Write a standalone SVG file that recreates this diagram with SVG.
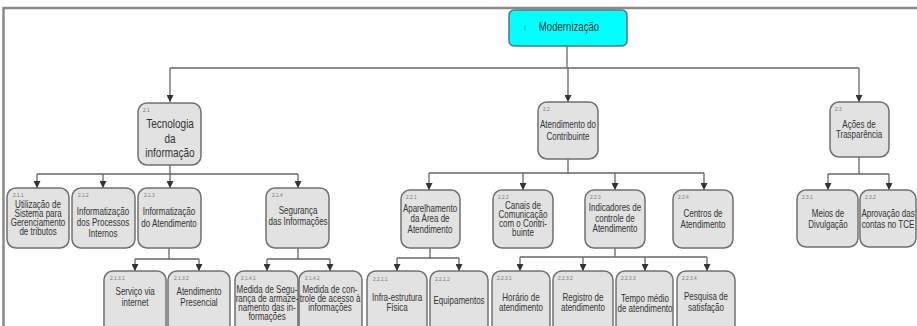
<svg xmlns="http://www.w3.org/2000/svg" width="917" height="326" viewBox="0 0 917 326">
<defs>
<marker id="ah" viewBox="0 0 10 10" refX="10" refY="5" markerWidth="7" markerHeight="7" markerUnits="userSpaceOnUse" orient="auto">
<path d="M0,0 L10,5 L0,10 z" fill="#333"/>
</marker>
<style>
.box{fill:#e2e2e2;stroke:#707070;stroke-width:1.5}
.root{fill:#00ffff;stroke:#607070;stroke-width:1.5}
.t{font-family:"Liberation Sans",Arial,sans-serif;font-size:10px;fill:#333;text-anchor:middle;transform-box:fill-box;transform-origin:center;transform:scaleX(0.8)}
.big{font-size:12.5px}
.n{font-family:"Liberation Sans",Arial,sans-serif;font-size:6px;fill:#777;transform-box:fill-box;transform-origin:left;transform:scaleX(0.8)}
.c{fill:none;stroke:#666;stroke-width:1.3}
.a{fill:none;stroke:#666;stroke-width:1.3;marker-end:url(#ah)}
.frame{fill:none;stroke:#888;stroke-width:2.5}
</style>
</defs>
<rect width="917" height="326" fill="#fff"/>
<path class="frame" d="M3.5,330 V8 H920"/>
<g id="connectors">
<path class="c" d="M567,46 V68 M170,68 H859"/>
<path class="a" d="M170,68 V102"/><path class="a" d="M568,68 V102"/><path class="a" d="M859,68 V102"/>
<path class="c" d="M170,165 V174 M37,174 H298"/>
<path class="a" d="M37,174 V188"/><path class="a" d="M103,174 V188"/><path class="a" d="M170,174 V188"/><path class="a" d="M298,174 V188"/>
<path class="c" d="M169,248 V259 M135,259 H199"/>
<path class="a" d="M135,259 V271"/><path class="a" d="M199,259 V271"/>
<path class="c" d="M298,248 V259 M267,259 H330"/>
<path class="a" d="M267,259 V271"/><path class="a" d="M330,259 V271"/>
<path class="c" d="M568,159 V173 M429,173 H704"/>
<path class="a" d="M429,173 V190"/><path class="a" d="M523,173 V190"/><path class="a" d="M615,173 V190"/><path class="a" d="M704,173 V190"/>
<path class="c" d="M430,248 V258 M397,258 H459"/>
<path class="a" d="M397,258 V271"/><path class="a" d="M459,258 V271"/>
<path class="c" d="M615,248 V257 M520,257 H707"/>
<path class="a" d="M520,257 V271"/><path class="a" d="M583,257 V271"/><path class="a" d="M645,257 V271"/><path class="a" d="M707,257 V271"/>
<path class="c" d="M859,157 V174 M828,174 H889"/>
<path class="a" d="M828,174 V190"/><path class="a" d="M889,174 V190"/>
</g>
<g id="n2">
<rect class="root" x="509" y="10" width="118" height="36" rx="5"/>
<text class="n" x="524" y="30">2</text>
<text class="t" x="569" y="31" style="font-size:12px">Modernização</text>
</g>
<g id="n2_1">
<rect class="box" x="138" y="103" width="63" height="62" rx="9"/>
<text class="n" x="143" y="112">2.1</text>
<text class="t big" x="170" y="128">Tecnologia</text>
<text class="t big" x="170" y="143">da</text>
<text class="t big" x="170" y="157">informação</text>
</g>
<g id="n2_2">
<rect class="box" x="538" y="102" width="60" height="57" rx="9"/>
<text class="n" x="543" y="111">2.2</text>
<text class="t" x="568" y="128">Atendimento do</text>
<text class="t" x="568" y="140">Contribuinte</text>
</g>
<g id="n2_3">
<rect class="box" x="830" y="102" width="59" height="55" rx="9"/>
<text class="n" x="835" y="111">2.3</text>
<text class="t" x="859" y="128">Ações de</text>
<text class="t" x="859" y="138">Trasparência</text>
</g>
<g id="n2_1_1">
<rect class="box" x="7" y="188" width="62" height="60" rx="9"/>
<text class="n" x="13" y="197">2.1.1</text>
<text class="t" x="38" y="208">Utilização de</text>
<text class="t" x="38" y="217">Sistema para</text>
<text class="t" x="38" y="226">Gerenciamento</text>
<text class="t" x="38" y="235">de tributos</text>
</g>
<g id="n2_1_2">
<rect class="box" x="72" y="188" width="63" height="60" rx="9"/>
<text class="n" x="78" y="197">2.1.2</text>
<text class="t" x="103" y="215">Informatização</text>
<text class="t" x="103" y="226">dos Processos</text>
<text class="t" x="103" y="237">Internos</text>
</g>
<g id="n2_1_3">
<rect class="box" x="138" y="188" width="63" height="60" rx="9"/>
<text class="n" x="144" y="197">2.1.3</text>
<text class="t" x="169" y="215">Informatização</text>
<text class="t" x="169" y="227">do Atendimento</text>
</g>
<g id="n2_1_4">
<rect class="box" x="266" y="188" width="63" height="60" rx="9"/>
<text class="n" x="272" y="197">2.1.4</text>
<text class="t" x="298" y="214">Segurança</text>
<text class="t" x="298" y="225">das Informações</text>
</g>
<g id="n2_2_1">
<rect class="box" x="401" y="190" width="59" height="58" rx="9"/>
<text class="n" x="406" y="199">2.2.1</text>
<text class="t" x="430" y="212">Aparelhamento</text>
<text class="t" x="430" y="222">da Área de</text>
<text class="t" x="430" y="233">Atendimento</text>
</g>
<g id="n2_2_2">
<rect class="box" x="493" y="190" width="60" height="58" rx="9"/>
<text class="n" x="498" y="199">2.2.2</text>
<text class="t" x="523" y="209">Canais de</text>
<text class="t" x="523" y="218">Comunicação</text>
<text class="t" x="523" y="227">com o Contri-</text>
<text class="t" x="523" y="236">buinte</text>
</g>
<g id="n2_2_3">
<rect class="box" x="585" y="190" width="60" height="58" rx="9"/>
<text class="n" x="590" y="199">2.2.3</text>
<text class="t" x="615" y="211">Indicadores de</text>
<text class="t" x="615" y="222">controle de</text>
<text class="t" x="615" y="232">Atendimento</text>
</g>
<g id="n2_2_4">
<rect class="box" x="673" y="190" width="60" height="58" rx="9"/>
<text class="n" x="678" y="199">2.2.4</text>
<text class="t" x="703" y="217">Centros de</text>
<text class="t" x="703" y="228">Atendimento</text>
</g>
<g id="n2_3_1">
<rect class="box" x="797" y="190" width="61" height="57" rx="9"/>
<text class="n" x="802" y="199">2.3.1</text>
<text class="t" x="828" y="217">Meios de</text>
<text class="t" x="828" y="228">Divulgação</text>
</g>
<g id="n2_3_2">
<rect class="box" x="860" y="190" width="56" height="57" rx="9"/>
<text class="n" x="865" y="199">2.3.2</text>
<text class="t" x="888" y="217">Aprovação das</text>
<text class="t" x="888" y="228">contas no TCE</text>
</g>
<g id="n2_1_3_1">
<rect class="box" x="104" y="271" width="62" height="65" rx="9"/>
<text class="n" x="110" y="280">2.1.3.1</text>
<text class="t" x="135" y="295">Serviço via</text>
<text class="t" x="135" y="306">internet</text>
</g>
<g id="n2_1_3_2">
<rect class="box" x="168" y="271" width="62" height="65" rx="9"/>
<text class="n" x="174" y="280">2.1.3.2</text>
<text class="t" x="199" y="295">Atendimento</text>
<text class="t" x="199" y="306">Presencial</text>
</g>
<g id="n2_1_4_1">
<rect class="box" x="235" y="271" width="63" height="65" rx="9"/>
<text class="n" x="241" y="280">2.1.4.1</text>
<text class="t" x="267" y="293">Medida de Segu-</text>
<text class="t" x="267" y="302">rança de armaze-</text>
<text class="t" x="267" y="311">namento das in-</text>
<text class="t" x="267" y="320">formações</text>
</g>
<g id="n2_1_4_2">
<rect class="box" x="299" y="271" width="63" height="65" rx="9"/>
<text class="n" x="305" y="280">2.1.4.2</text>
<text class="t" x="330" y="293">Medida de con-</text>
<text class="t" x="330" y="302">trole de acesso à</text>
<text class="t" x="330" y="311">informações</text>
</g>
<g id="n2_2_1_1">
<rect class="box" x="367" y="271" width="60" height="65" rx="9"/>
<text class="n" x="373" y="281">2.2.1.1</text>
<text class="t" x="397" y="301">Infra-estrutura</text>
<text class="t" x="397" y="311">Física</text>
</g>
<g id="n2_2_1_2">
<rect class="box" x="430" y="271" width="58" height="65" rx="9"/>
<text class="n" x="435" y="281">2.2.1.2</text>
<text class="t" x="459" y="304">Equipamentos</text>
</g>
<g id="n2_2_3_1">
<rect class="box" x="492" y="271" width="58" height="65" rx="9"/>
<text class="n" x="497" y="280">2.2.3.1</text>
<text class="t" x="521" y="301">Horário de</text>
<text class="t" x="521" y="311">atendimento</text>
</g>
<g id="n2_2_3_2">
<rect class="box" x="553" y="271" width="60" height="65" rx="9"/>
<text class="n" x="558" y="280">2.2.3.2</text>
<text class="t" x="583" y="301">Registro de</text>
<text class="t" x="583" y="311">atendimento</text>
</g>
<g id="n2_2_3_3">
<rect class="box" x="616" y="271" width="57" height="65" rx="9"/>
<text class="n" x="621" y="280">2.2.3.3</text>
<text class="t" x="645" y="302">Tempo médio</text>
<text class="t" x="645" y="312">de atendimento</text>
</g>
<g id="n2_2_3_4">
<rect class="box" x="677" y="271" width="58" height="65" rx="9"/>
<text class="n" x="682" y="280">2.2.3.4</text>
<text class="t" x="706" y="300">Pesquisa de</text>
<text class="t" x="706" y="311">satisfação</text>
</g>
</svg>
